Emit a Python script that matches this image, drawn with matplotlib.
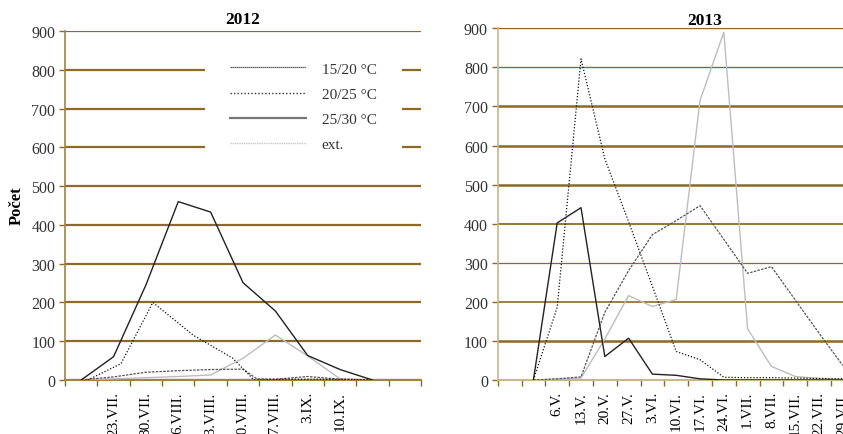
import numpy as np
import matplotlib
matplotlib.use("Agg")
import matplotlib.pyplot as plt
from matplotlib.lines import Line2D
from matplotlib.patches import Rectangle

plt.rcParams['font.family'] = ['Liberation Serif', 'DejaVu Serif']

# 2012 - x in days from 16.VII.
labels_2012 = ["", "23.VII.", "30.VII.", "6.VIII.", "13.VIII.", "20.VIII.", "27.VIII.", "3.IX.", "10.IX.", "", ""]
d12_1520 = [0, 7, 14, 21, 28, 35, 38, 42, 49, 56, 63]
v12_1520 = [0, 8, 20, 24, 27, 28, 3, 2, 9, 2, 0]
d12_2025 = [1.4, 8.6, 15.5, 24.3, 32.7, 37.4, 45, 52, 59, 63]
v12_2025 = [0, 42, 200, 115, 57, 0, 2, 2, 1, 0]
d12_2530 = [0, 7, 14, 21, 28, 35, 42, 49, 56, 63]
v12_2530 = [0, 60, 245, 460, 433, 251, 178, 63, 27, 0]
d12_ext = [0, 7, 14, 21, 28, 35, 42, 49, 56, 63]
v12_ext = [0, 3, 6, 9, 13, 56, 116, 62, 3, 0]

# 2013 - x in days from 22.IV.
labels_2013 = ["", "", "6.V.", "13.V.", "20.V.", "27.V.", "3.VI.", "10.VI.", "17.VI.",
               "24.VI.", "1.VII.", "8.VII.", "15.VII.", "22.VII.", "29.VII."]
d13 = [7, 14, 21, 28, 35, 42, 49, 56, 63, 70, 77, 84, 91, 98]
v13_1520 = [0, 3, 8, 173, 280, 372, 408, 446, 360, 273, 290, 205, 120, 37]
v13_2025 = [0, 186, 822, 566, 405, 240, 73, 52, 7, 6, 6, 5, 4, 3]
v13_2530 = [0, 402, 441, 60, 107, 15, 12, 3, 0, 0, 0, 0, 0, 0]
v13_ext = [0, 2, 5, 105, 216, 188, 206, 715, 890, 131, 35, 9, 4, 2]

names = ["15/20 °C", "20/25 °C", "25/30 °C", "ext."]
yticks = np.arange(0, 1000, 100)

GRID = "#8a6b25"
TAN = "#c9b68a"
s1520 = dict(color="#555555", lw=0.9, ls=(0, (2, 1)))
s2025 = dict(color="#111111", lw=0.9, ls=(0, (1, 1.5)))
s2530 = dict(color="#222222", lw=1.0, ls="-")
sext = dict(color="#bdbdbd", lw=1.0, ls="-")

fig = plt.figure(figsize=(8.43, 4.35), dpi=100)
ax1 = fig.add_axes([65 / 843, 54 / 435, 356 / 843, 349 / 435])
ax2 = fig.add_axes([497.7 / 843, 54 / 435, 357 / 843, 351.7 / 435])


def setup(ax, labels, widths, spine_col):
    n = len(labels)
    for y, w in zip(yticks, widths):
        if w > 0:
            ax.axhline(y, color=GRID, lw=w, zorder=1)
    ax.set_ylim(0, 900)
    ax.set_xlim(-3.5, n * 7 - 3.5)
    ax.set_yticks(yticks)
    ax.set_xticks(np.arange(n) * 7)
    ax.set_xticklabels(labels, rotation=90, va="top", ha="center", fontsize=11)
    ax.set_xticks(np.arange(n + 1) * 7 - 3.5, minor=True)
    ax.tick_params(axis="x", which="major", length=0, pad=8)
    ax.tick_params(axis="x", which="minor", length=4, color=GRID, width=1)
    ax.tick_params(axis="y", length=4, color=GRID, width=1, labelsize=11.5, pad=3, labelcolor="#333333")
    for s in ["top", "right"]:
        ax.spines[s].set_visible(False)
    ax.spines["left"].set_color(spine_col)
    ax.spines["bottom"].set_color(spine_col)
    ax.spines["left"].set_linewidth(1.2)
    ax.spines["bottom"].set_linewidth(1.5)


setup(ax1, labels_2012, [1.6] * 10, "#a08540")
setup(ax2, labels_2013, [0, 1.8, 1.2, 0.9, 1.3, 1.8, 1.8, 1.8, 1.0, 1.0], TAN)

ax1.plot(d12_ext, v12_ext, zorder=3, **sext)
ax1.plot(d12_1520, v12_1520, zorder=4, **s1520)
ax1.plot(d12_2025, v12_2025, zorder=4, **s2025)
ax1.plot(d12_2530, v12_2530, zorder=5, **s2530)

ax2.plot(d13, v13_ext, zorder=3, **sext)
ax2.plot(d13, v13_1520, zorder=4, **s1520)
ax2.plot(d13, v13_2025, zorder=4, **s2025)
ax2.plot(d13, v13_2530, zorder=5, **s2530)

ax1.set_title("2012", fontsize=12.5, fontweight="bold", pad=6)
ax2.set_title("2013", fontsize=12.5, fontweight="bold", pad=2, x=0.58)
fig.text(17 / 843, 1 - 206 / 435, "Počet", rotation=90, fontsize=12, fontweight="bold",
         ha="center", va="center")

# white legend background covering the gridlines
ax1.add_patch(Rectangle((140 / 356, 575 / 900), (402 - 205) / 356, 255 / 900,
                        transform=ax1.transAxes, facecolor="white", edgecolor="none", zorder=2))

handles = [
    Line2D([], [], color="#333333", lw=0.9, ls=(0, (1, 0.6))),
    Line2D([], [], color="#333333", lw=1.0, ls=(0, (1, 1.5))),
    Line2D([], [], color="#777777", lw=1.6, ls="-"),
    Line2D([], [], color="#c8c8c8", lw=1.0, ls=(0, (1, 0.6))),
]
leg = ax1.legend(handles, names, loc="upper left", bbox_to_anchor=(165 / 356, 1 - 31 / 349),
                 frameon=False, fontsize=11, handlelength=5.0, handletextpad=1.0,
                 labelspacing=0.75, borderpad=0, borderaxespad=0)
for t in leg.get_texts():
    t.set_color("#333333")

fig.savefig("out.png", dpi=100)
